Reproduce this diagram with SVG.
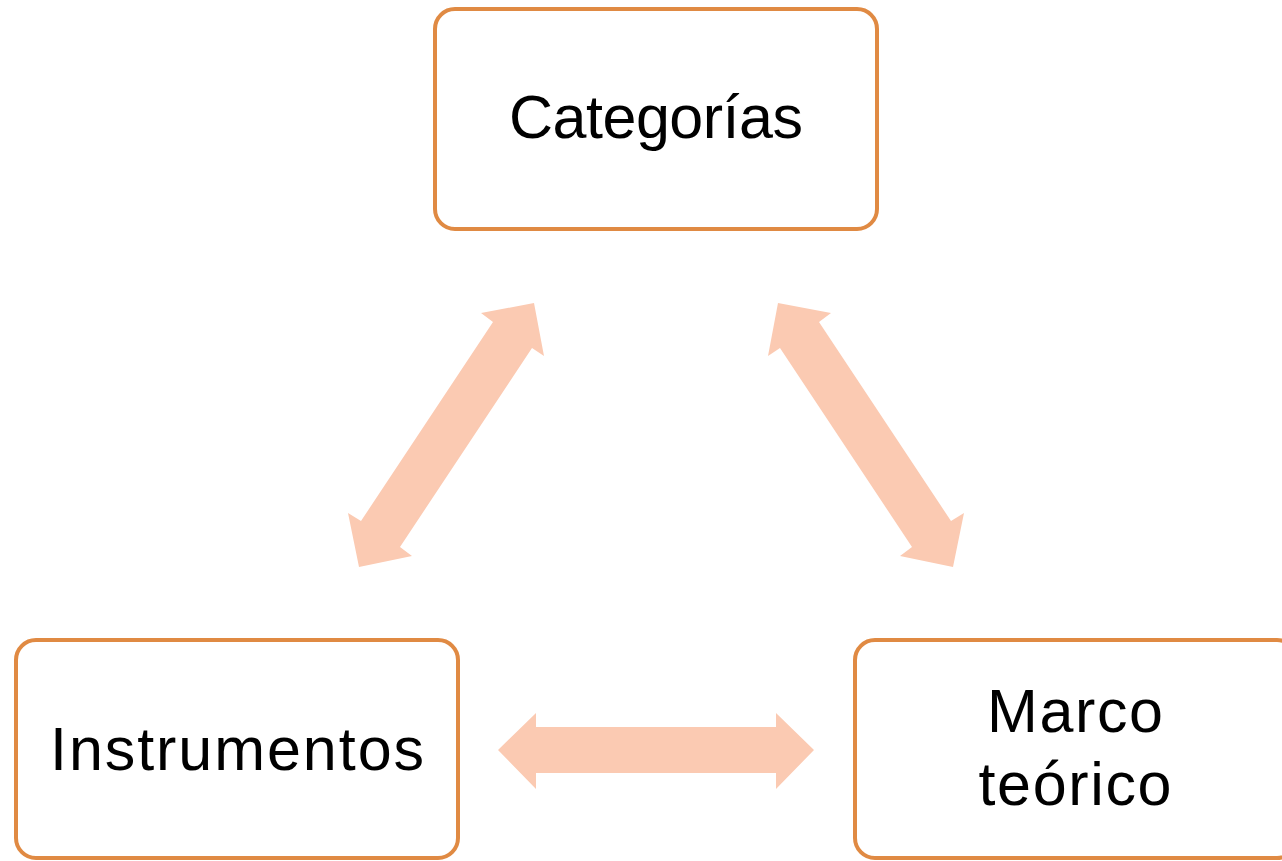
<svg xmlns="http://www.w3.org/2000/svg" width="1282" height="861" viewBox="0 0 1282 861">
<style>
.box{fill:#fff;stroke:#E08A43;stroke-width:4}
.lbl{font-family:"Liberation Sans",Arial,sans-serif;font-size:61px;fill:#000;text-anchor:middle}
.arr{fill:#FBCAB2}
</style>
<rect width="1282" height="861" fill="#fff"/>
<g id="connectors">
<polygon class="arr" points="498,750 536,713 536,727 776,727 776,713 814,750 776,789 776,773 536,773 536,789"/>
<polygon class="arr" points="534,303 544,356 532,348 400,547 412,556 359,567 348,513 361,521 493,322 481,313"/>
<polygon class="arr" points="778,303 768,356 780,348 912,547 900,556 953,567 964,513 951,521 819,322 831,313"/>
</g>
<g id="categorias">
<rect class="box" x="435" y="9" width="442" height="220" rx="20"/>
<text class="lbl" x="656" y="138" textLength="294">Categorías</text>
</g>
<g id="instrumentos">
<rect class="box" x="16" y="640" width="442" height="218" rx="20"/>
<text class="lbl" x="237" y="770" textLength="374">Instrumentos</text>
</g>
<g id="marco">
<rect class="box" x="855" y="640" width="442" height="218" rx="20"/>
<text class="lbl" x="1075" y="732" textLength="176">Marco</text>
<text class="lbl" x="1075" y="805" textLength="193">teórico</text>
</g>
</svg>
